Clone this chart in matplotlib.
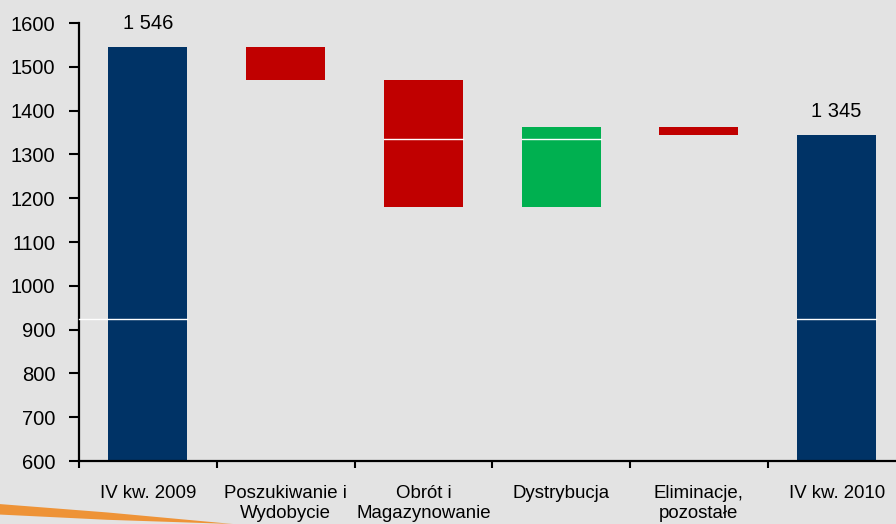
import matplotlib
matplotlib.use('Agg')
import matplotlib.pyplot as plt
import matplotlib.patches as mpatches
import numpy as np

plt.rcParams.update({
    'font.family': ['Liberation Sans', 'DejaVu Sans'],
    'font.size':   14.5,
})

categories = ['IV kw. 2009', 'Poszukiwanie i\nWydobycie', 'Obrót i\nMagazynowanie',
              'Dystrybucja', 'Eliminacje,\npozostałe', 'IV kw. 2010']
start_value = 1546
changes     = [-76, -289, 182, -18]
end_value   = 1345
y_ticks     = [600, 700, 800, 900, 1000, 1100, 1200, 1300, 1400, 1500, 1600]

# white separator lines seen in the source (value, bar indices)
white_lines = [(924, [0, 5]), (1335, [2, 3])]

NAVY  = '#003366'
RED   = '#c00000'
GREEN = '#00b050'
BG    = '#e3e3e3'

# waterfall geometry
bottoms = [0]
heights = [start_value]
colors  = [NAVY]
level = start_value
for d in changes:
    new = level + d
    bottoms.append(min(level, new))
    heights.append(abs(d))
    colors.append(GREEN if d > 0 else RED)
    level = new
bottoms.append(0)
heights.append(end_value)
colors.append(NAVY)

x = np.arange(len(categories))
width = 0.574

fig = plt.figure(figsize=(8.96, 5.24), dpi=100, facecolor=BG)
ax = fig.add_axes([0.0882, 0.1202, 0.9224, 0.8359])
ax.set_facecolor(BG)

ax.bar(x, heights, width, bottom=bottoms, color=colors, zorder=2)

for val, idx in white_lines:
    for i in idx:
        left = -0.5 if i == 0 else i - width / 2
        ax.plot([left, i + width / 2], [val, val], color='white',
                linewidth=1.0, zorder=5, clip_on=False)

for i, v in [(0, start_value), (len(categories) - 1, end_value)]:
    ax.annotate(f'{v:,}'.replace(',', ' '), (i, v), xytext=(0, 12.5),
                textcoords='offset points', ha='center', va='baseline',
                fontsize=14.5, annotation_clip=False)

ax.set_xlim(-0.5, len(categories) - 0.5)
ax.set_ylim(600, 1600)
ax.set_yticks(y_ticks)
ax.set_xticks(x)
ax.set_xticklabels(categories, fontsize=13.4, linespacing=1.25)
ax.set_xticks(np.arange(-0.5, len(categories)), minor=True)
ax.tick_params(axis='x', which='major', length=0, pad=17)
ax.tick_params(axis='x', which='minor', length=5, width=1.5, direction='out')
ax.tick_params(axis='y', length=7, width=1.5, pad=10, labelsize=14.5)

for s in ['top', 'right']:
    ax.spines[s].set_visible(False)
for s in ['left', 'bottom']:
    ax.spines[s].set_linewidth(1.6)

# orange swoosh decoration bottom-left
swoosh = mpatches.Polygon([(0, 0.038), (0.12, 0.022), (0.26, 0.0),
                           (0.12, 0.008), (0, 0.018)],
                          closed=True, transform=fig.transFigure,
                          facecolor='#f08a24', edgecolor='none', alpha=0.9)
fig.patches.append(swoosh)

fig.savefig('out.png', dpi=100, facecolor=BG)
